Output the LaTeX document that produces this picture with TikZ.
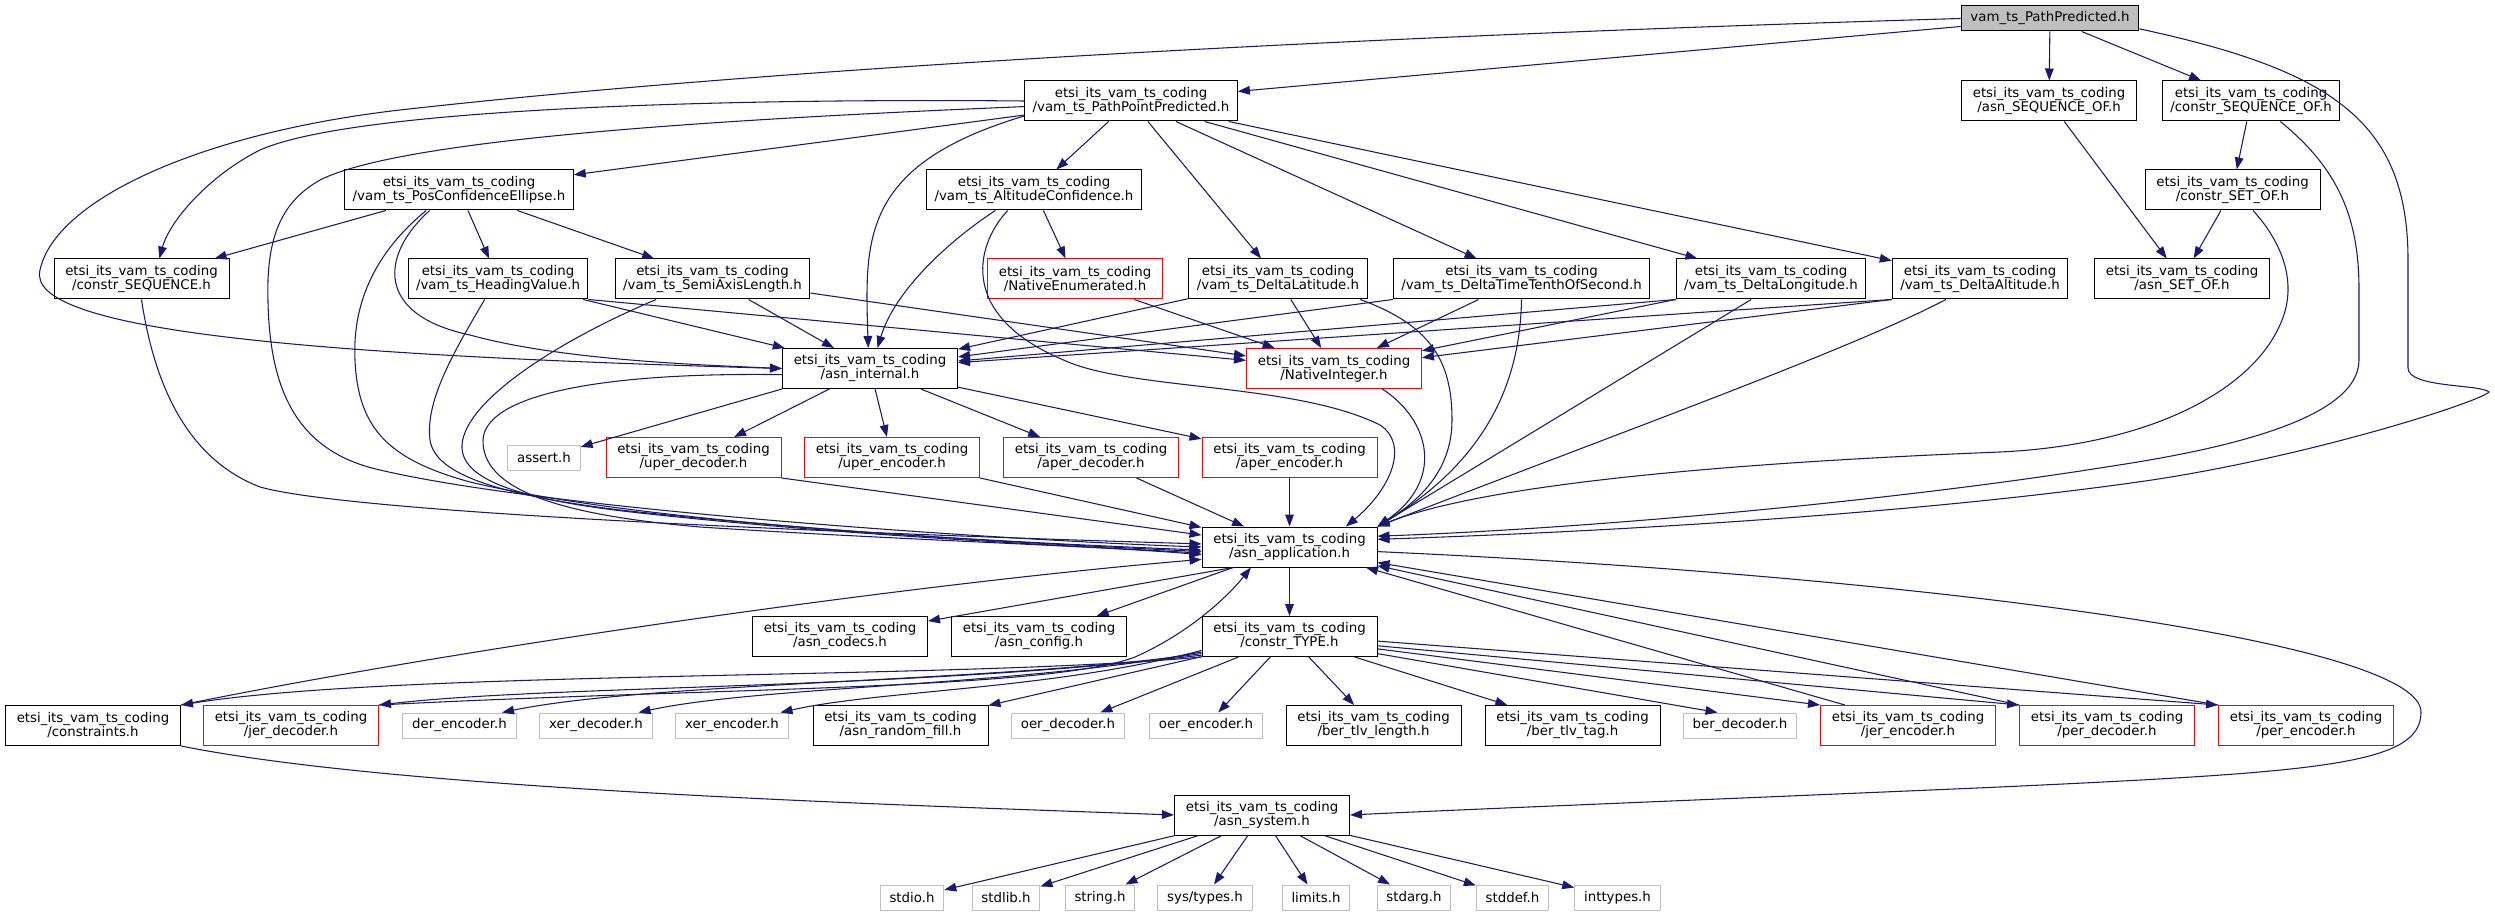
\documentclass[tikz,border=0pt]{standalone}
\usepackage{fontspec}
\setmainfont{DejaVu Sans}
\usepackage{xcolor}
\usepackage{tikz}
\usetikzlibrary{arrows.meta}

\definecolor{edgeblue}{HTML}{191970}
\definecolor{sysgray}{HTML}{BFBFBF}
\definecolor{truncred}{HTML}{FF0000}

\begin{document}
\begin{tikzpicture}[
  x=0.75pt,y=-0.75pt,
  hdr/.style={
    rectangle,draw=black,line width=0.75pt,fill=white,
    minimum width=131.25pt,minimum height=30pt,
    inner xsep=6pt,inner ysep=0pt,
    align=center,font=\fontsize{10pt}{10.5pt}\selectfont
  },
  hdrred/.style={hdr,draw=truncred},
  syshdr/.style={
    rectangle,draw=sysgray,line width=0.75pt,fill=white,
    minimum height=18.75pt,inner xsep=7pt,inner ysep=0pt,
    font=\fontsize{10pt}{10.5pt}\selectfont
  },
  mainhdr/.style={syshdr,draw=black,fill=sysgray},
  arrow/.style={-{Triangle[length=9pt,width=6.5pt]},draw=edgeblue,line width=0.8pt}
]
\useasboundingbox (0,0) rectangle (2495,916);

\node[mainhdr] (root) at (2050,18.5) {vam\_ts\_PathPredicted.h};

\node[hdr] (ppp) at (1131,101) {etsi\_its\_vam\_ts\_coding\\/vam\_ts\_PathPointPredicted.h};
\node[hdr] (seqof) at (2049,101) {etsi\_its\_vam\_ts\_coding\\/asn\_SEQUENCE\_OF.h};
\node[hdr] (cseqof) at (2251,101) {etsi\_its\_vam\_ts\_coding\\/constr\_SEQUENCE\_OF.h};

\node[hdr] (pce) at (459,190) {etsi\_its\_vam\_ts\_coding\\/vam\_ts\_PosConfidenceEllipse.h};
\node[hdr] (altc) at (1034,190) {etsi\_its\_vam\_ts\_coding\\/vam\_ts\_AltitudeConfidence.h};
\node[hdr] (csetof) at (2232.5,190) {etsi\_its\_vam\_ts\_coding\\/constr\_SET\_OF.h};

\node[hdr] (cseq) at (141.5,279) {etsi\_its\_vam\_ts\_coding\\/constr\_SEQUENCE.h};
\node[hdr] (head) at (498,279) {etsi\_its\_vam\_ts\_coding\\/vam\_ts\_HeadingValue.h};
\node[hdr] (semi) at (712.5,279) {etsi\_its\_vam\_ts\_coding\\/vam\_ts\_SemiAxisLength.h};
\node[hdrred] (nenum) at (1075,279) {etsi\_its\_vam\_ts\_coding\\/NativeEnumerated.h};
\node[hdr] (dlat) at (1278,279) {etsi\_its\_vam\_ts\_coding\\/vam\_ts\_DeltaLatitude.h};
\node[hdr] (dtime) at (1521.5,279) {etsi\_its\_vam\_ts\_coding\\/vam\_ts\_DeltaTimeTenthOfSecond.h};
\node[hdr] (dlon) at (1771,279) {etsi\_its\_vam\_ts\_coding\\/vam\_ts\_DeltaLongitude.h};
\node[hdr] (dalt) at (1980,279) {etsi\_its\_vam\_ts\_coding\\/vam\_ts\_DeltaAltitude.h};
\node[hdr] (setof) at (2182,279) {etsi\_its\_vam\_ts\_coding\\/asn\_SET\_OF.h};

\node[hdr] (internal) at (870,368.5) {etsi\_its\_vam\_ts\_coding\\/asn\_internal.h};
\node[hdrred] (nint) at (1334,368.5) {etsi\_its\_vam\_ts\_coding\\/NativeInteger.h};

\node[syshdr] (assert) at (544,457.5) {assert.h};
\node[hdrred] (uperdec) at (693.5,457.5) {etsi\_its\_vam\_ts\_coding\\/uper\_decoder.h};
\node[hdrred] (uperenc) at (892,457.5) {etsi\_its\_vam\_ts\_coding\\/uper\_encoder.h};
\node[hdrred] (aperdec) at (1091,457.5) {etsi\_its\_vam\_ts\_coding\\/aper\_decoder.h};
\node[hdrred] (aperenc) at (1289.5,457.5) {etsi\_its\_vam\_ts\_coding\\/aper\_encoder.h};

\node[hdr] (app) at (1289.5,547) {etsi\_its\_vam\_ts\_coding\\/asn\_application.h};

\node[hdr] (codecs) at (840,636.5) {etsi\_its\_vam\_ts\_coding\\/asn\_codecs.h};
\node[hdr] (config) at (1039,636.5) {etsi\_its\_vam\_ts\_coding\\/asn\_config.h};
\node[hdr] (ctype) at (1289.5,636.5) {etsi\_its\_vam\_ts\_coding\\/constr\_TYPE.h};

\node[hdr] (constraints) at (93,725.5) {etsi\_its\_vam\_ts\_coding\\/constraints.h};
\node[hdrred] (jerdec) at (291,725.5) {etsi\_its\_vam\_ts\_coding\\/jer\_decoder.h};
\node[syshdr] (derenc) at (459.5,725.5) {der\_encoder.h};
\node[syshdr] (xerdec) at (596,725.5) {xer\_decoder.h};
\node[syshdr] (xerenc) at (732,725.5) {xer\_encoder.h};
\node[hdr] (randfill) at (900.5,725.5) {etsi\_its\_vam\_ts\_coding\\/asn\_random\_fill.h};
\node[syshdr] (oerdec) at (1068,725.5) {oer\_decoder.h};
\node[syshdr] (oerenc) at (1206,725.5) {oer\_encoder.h};
\node[hdr] (tlvlen) at (1373.5,725.5) {etsi\_its\_vam\_ts\_coding\\/ber\_tlv\_length.h};
\node[hdr] (tlvtag) at (1572.5,725.5) {etsi\_its\_vam\_ts\_coding\\/ber\_tlv\_tag.h};
\node[syshdr] (berdec) at (1740,725.5) {ber\_decoder.h};
\node[hdrred] (jerenc) at (1908,725.5) {etsi\_its\_vam\_ts\_coding\\/jer\_encoder.h};
\node[hdrred] (perdec) at (2107,725.5) {etsi\_its\_vam\_ts\_coding\\/per\_decoder.h};
\node[hdrred] (perenc) at (2306,725.5) {etsi\_its\_vam\_ts\_coding\\/per\_encoder.h};

\node[hdr] (system) at (1262,815) {etsi\_its\_vam\_ts\_coding\\/asn\_system.h};

\node[syshdr] (stdio) at (912,897.5) {stdio.h};
\node[syshdr] (stdlib) at (1006,897.5) {stdlib.h};
\node[syshdr] (string) at (1100,897.5) {string.h};
\node[syshdr] (systypes) at (1205,897.5) {sys/types.h};
\node[syshdr] (limits) at (1316,897.5) {limits.h};
\node[syshdr] (stdarg) at (1414,897.5) {stdarg.h};
\node[syshdr] (stddef) at (1512.5,897.5) {stddef.h};
\node[syshdr] (inttypes) at (1617.5,897.5) {inttypes.h};

\draw[arrow] (root) -- (ppp);
\draw[arrow] (root) -- (seqof);
\draw[arrow] (root) -- (cseqof);
\draw[arrow] (root.west) .. controls (1400,35) and (800,65) .. (400,110) .. controls (200,133) and (55,200) .. (40,270) .. controls (25,330) and (300,355) .. (internal.west);
\draw[arrow] ([yshift=2pt]root.south east) .. controls (2330,70) and (2408,120) .. (2408,260) -- (2408,368) .. controls (2408,388) and (2480,384) .. (2489,392) .. controls (2480,402) and (2300,460) .. (2131,483) .. controls (1900,515) and (1600,532) .. (app.5);

\draw[arrow] (seqof) -- (setof);
\draw[arrow] (cseqof) -- (csetof);
\draw[arrow] (cseqof.-35) .. controls (2340,170) and (2359,220) .. (2359,290) -- (2359,360) .. controls (2359,420) and (2220,450) .. (2106,467) .. controls (1900,500) and (1600,528) .. (app.7);
\draw[arrow] (csetof) -- (setof);
\draw[arrow] (csetof.-45) .. controls (2280,240) and (2298,280) .. (2282,320) .. controls (2255,390) and (2150,445) .. (2000,452) .. controls (1800,460) and (1500,478) .. (app.north east);

\draw[arrow] (ppp.west) .. controls (700,98) and (350,110) .. (260,150) .. controls (210,175) and (170,220) .. (cseq.49);
\draw[arrow] (ppp.183) .. controls (700,120) and (400,140) .. (320,180) .. controls (285,200) and (270,230) .. (268,280) .. controls (266,380) and (290,450) .. (380,470) .. controls (550,510) and (1000,540) .. (app.180);
\draw[arrow] (ppp) -- (pce);
\draw[arrow] (ppp.188) .. controls (860,165) and (865,240) .. (internal.95);
\draw[arrow] (ppp) -- (altc);
\draw[arrow] (ppp) -- (dlat);
\draw[arrow] (ppp) -- (dtime);
\draw[arrow] (ppp) -- (dlon);
\draw[arrow] (ppp) -- (dalt);

\draw[arrow] (pce) -- (cseq);
\draw[arrow] (pce) -- (head);
\draw[arrow] (pce) -- (semi);
\draw[arrow] (pce.215) .. controls (380,255) and (375,315) .. (470,335) .. controls (560,360) and (700,365) .. (internal.west);
\draw[arrow] (pce.212) .. controls (378,250) and (352,300) .. (355,360) .. controls (358,430) and (390,460) .. (470,482) .. controls (650,525) and (1000,542) .. (app.182);

\draw[arrow] (cseq.south) .. controls (155,390) and (190,460) .. (260,487) .. controls (360,515) and (900,535) .. (app.178);

\draw[arrow] (head.237) .. controls (455,350) and (425,400) .. (430,440) .. controls (435,475) and (500,495) .. (620,510) .. controls (850,535) and (1050,544) .. (app.183);
\draw[arrow] (head) -- (internal);
\draw[arrow] (head.south east) -- (nint);

\draw[arrow] (semi.200) .. controls (560,340) and (465,400) .. (462,445) .. controls (460,480) and (520,500) .. (640,513) .. controls (860,537) and (1060,545) .. (app.184);
\draw[arrow] (semi) -- (internal);
\draw[arrow] (semi) -- (nint);

\draw[arrow] (altc.208) .. controls (950,240) and (895,290) .. (internal.70);
\draw[arrow] (altc.218) .. controls (975,245) and (955,320) .. (1076,365) .. controls (1150,390) and (1300,385) .. (1380,425) .. controls (1410,445) and (1390,490) .. (app.20);
\draw[arrow] (altc) -- (nenum);
\draw[arrow] (nenum) -- (nint);

\draw[arrow] (dlat) -- (internal);
\draw[arrow] (dlat) -- (nint);
\draw[arrow] (dlat.-14) .. controls (1430,325) and (1452,360) .. (1452,420) .. controls (1452,470) and (1420,500) .. (app.north east);

\draw[arrow] (dtime.south west) -- (internal);
\draw[arrow] (dtime) -- (nint);
\draw[arrow] (dtime.south) .. controls (1520,400) and (1470,470) .. (app.north east);

\draw[arrow] (dlon.south west) -- (internal);
\draw[arrow] (dlon.south west) -- (nint);
\draw[arrow] (dlon.226) -- (app.north east);

\draw[arrow] (dalt.south west) -- (internal);
\draw[arrow] (dalt.south west) -- (nint);
\draw[arrow] (dalt.211) .. controls (1850,350) and (1600,440) .. (app.north east);

\draw[arrow] (nint.-23) .. controls (1430,420) and (1445,480) .. (app.north east);

\draw[arrow] (internal.184) .. controls (600,372) and (485,395) .. (483,440) .. controls (482,490) and (560,515) .. (700,527) .. controls (900,540) and (1100,546) .. (app.185);
\draw[arrow] (internal.south west) -- (assert);
\draw[arrow] (internal) -- (uperdec);
\draw[arrow] (internal) -- (uperenc);
\draw[arrow] (internal) -- (aperdec);
\draw[arrow] (internal) -- (aperenc);

\draw[arrow] (uperdec.south east) -- (app);
\draw[arrow] (uperenc.south east) -- (app);
\draw[arrow] (aperdec) -- (app);
\draw[arrow] (aperenc) -- (app);

\draw[arrow] (app.200) -- (codecs);
\draw[arrow] (app.200) -- (config);
\draw[arrow] (app) -- (ctype);
\draw[arrow] (app.-3) .. controls (1900,575) and (2425,640) .. (2421,713) .. controls (2420,765) and (2320,772) .. (2000,787) .. controls (1700,800) and (1450,810) .. (system.east);

\draw[arrow] (ctype.south west) .. controls (950,680) and (400,670) .. (constraints.north east);
\draw[arrow] (ctype.192) .. controls (900,690) and (550,685) .. (jerdec.north east);
\draw[arrow] (ctype.191) .. controls (1000,682) and (650,682) .. (derenc.17);
\draw[arrow] (ctype.190) .. controls (1020,686) and (760,686) .. (xerdec.17);
\draw[arrow] (ctype.189) .. controls (1050,690) and (880,690) .. (xerenc.15);
\draw[arrow] (ctype) -- (randfill);
\draw[arrow] (ctype) -- (oerdec);
\draw[arrow] (ctype) -- (oerenc);
\draw[arrow] (ctype) -- (tlvlen);
\draw[arrow] (ctype) -- (tlvtag);
\draw[arrow] (ctype.-11) -- (berdec.150);
\draw[arrow] (ctype.-8) -- (jerenc.north west);
\draw[arrow] (ctype.-6) -- (perdec.north west);
\draw[arrow] (ctype.-3) -- (perenc.north west);

\draw[arrow] (constraints.north east) .. controls (450,650) and (900,585) .. (app.188);
\draw[arrow] (constraints.south east) .. controls (400,790) and (900,805) .. (system.west);
\draw[arrow] (jerdec.north east) .. controls (700,688) and (1050,690) .. (1135,657) .. controls (1185,635) and (1225,600) .. (app.208);
\draw[arrow] (jerenc.162) -- (app.-15);
\draw[arrow] (perdec.north west) -- (app.-12);
\draw[arrow] (perenc.north west) -- (app.-10);

\draw[arrow] (system) -- (stdio);
\draw[arrow] (system) -- (stdlib);
\draw[arrow] (system) -- (string);
\draw[arrow] (system) -- (systypes);
\draw[arrow] (system) -- (limits);
\draw[arrow] (system) -- (stdarg);
\draw[arrow] (system) -- (stddef);
\draw[arrow] (system) -- (inttypes);

\end{tikzpicture}
\end{document}
